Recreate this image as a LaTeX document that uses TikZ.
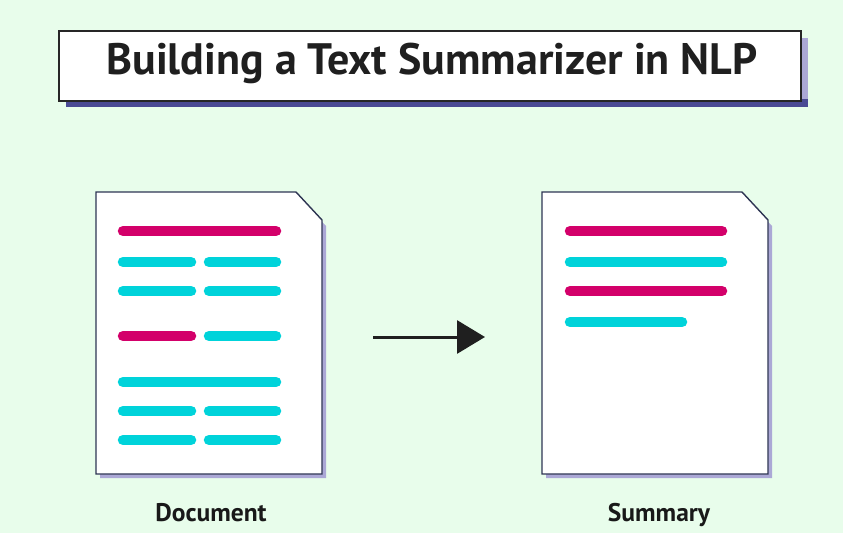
\documentclass[tikz,border=0pt]{standalone}
\usepackage{fontspec}
\setmainfont{PT Sans}
\usetikzlibrary{arrows.meta}
\definecolor{bgmint}{HTML}{E8FDEB}
\definecolor{navy}{HTML}{2E3553}
\definecolor{shadowdark}{HTML}{4A4A94}
\definecolor{shadowlight}{HTML}{ABA8D6}
\definecolor{magentaline}{HTML}{D3006A}
\definecolor{cyanline}{HTML}{00D3DA}
\tikzset{
  x=1pt, y=-1pt,
  page/.style={fill=white, draw=navy, line width=1.4pt, line join=miter},
  pageshadow/.style={fill=shadowlight, draw=none},
  hot/.style={draw=magentaline, line width=10.5pt, line cap=round},
  cool/.style={draw=cyanline, line width=10.5pt, line cap=round},
  caption/.style={font=\bfseries\fontsize{25.5}{28}\selectfont, text=black!90, inner sep=0pt, anchor=base}
}
\begin{document}
\begin{tikzpicture}
\useasboundingbox (0,0) rectangle (843,533);
\fill[bgmint] (0,0) rectangle (843,533);

% title banner with offset shadow
\fill[shadowlight] (66,38) rectangle (808,107);
\fill[shadowdark] (66,99) rectangle (808,107);
\node[draw=black!85, fill=white, line width=1.6pt, minimum width=742pt, minimum height=70pt,
      anchor=north west, inner sep=0pt] (title) at (58,30) {};
\node[font=\bfseries\fontsize{44}{50}\selectfont, text=black!88] (titletext) at (432,63)
  {Building a Text Summarizer in NLP};

% source document
\fill[pageshadow] (100,198) -- (300,198) -- (326,226) -- (326,478) -- (100,478) -- cycle;
\draw[page] (96,192) -- (296,192) -- (322,220) -- (322,474) -- (96,474) -- cycle;
\draw[hot]  (123,231) -- (276,231);
\draw[cool] (123,262) -- (191,262);  \draw[cool] (209,262) -- (276,262);
\draw[cool] (123,291) -- (191,291);  \draw[cool] (209,291) -- (276,291);
\draw[hot]  (123,336) -- (191,336);  \draw[cool] (209,336) -- (276,336);
\draw[cool] (123,382) -- (276,382);
\draw[cool] (123,411) -- (191,411);  \draw[cool] (209,411) -- (276,411);
\draw[cool] (123,440) -- (191,440);  \draw[cool] (209,440) -- (276,440);
\node[caption] (doclabel) at (211,521) {Document};

% summary document
\fill[pageshadow] (546,198) -- (746,198) -- (772,226) -- (772,478) -- (546,478) -- cycle;
\draw[page] (542,192) -- (742,192) -- (768,220) -- (768,474) -- (542,474) -- cycle;
\draw[hot]  (570,231) -- (722,231);
\draw[cool] (570,262) -- (722,262);
\draw[hot]  (570,291) -- (722,291);
\draw[cool] (570,322) -- (682,322);
\node[caption] (sumlabel) at (659,521) {Summary};

% transformation arrow
\coordinate (arrowstart) at (373,337);
\coordinate (arrowend) at (485,337);
\draw[line width=3pt, black!88, -{Triangle[length=28pt, width=33pt]}] (arrowstart) -- (arrowend);
\end{tikzpicture}
\end{document}
